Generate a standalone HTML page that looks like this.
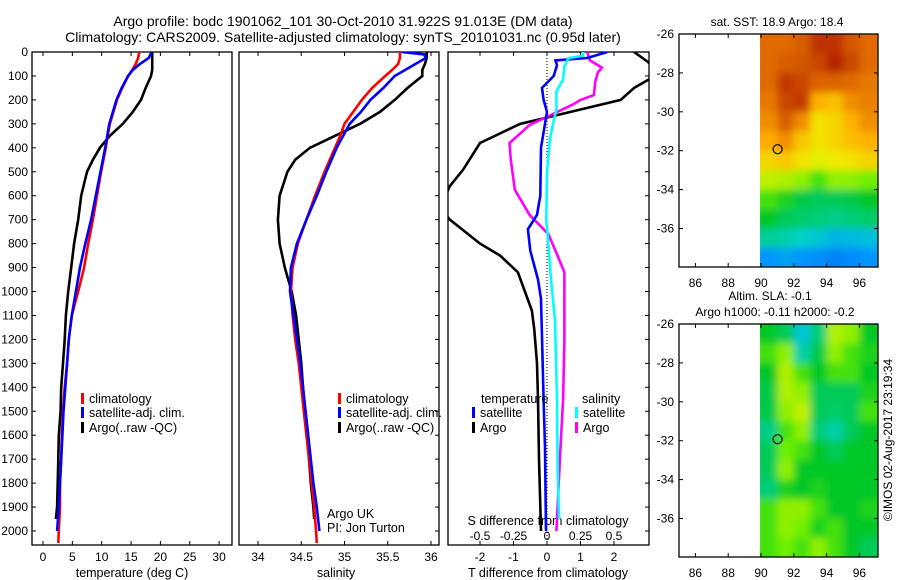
<!DOCTYPE html>
<html><head><meta charset="utf-8"><style>
body{margin:0;background:#fff;}
svg{display:block;font-family:"Liberation Sans",sans-serif;}
text{fill:#000;}
</style></head><body>
<svg id="c" width="900" height="580" viewBox="0 0 900 580">
<defs>
<clipPath id="cp1"><rect x="32" y="52" width="200" height="493"/></clipPath>
<clipPath id="cp2"><rect x="239" y="52" width="200" height="493"/></clipPath>
<clipPath id="cp3"><rect x="448" y="52" width="201" height="493"/></clipPath>
<clipPath id="cm1"><rect x="760" y="34" width="118" height="233"/></clipPath>
<clipPath id="cm2"><rect x="760" y="324" width="118" height="233"/></clipPath>
<filter id="bl" x="-5%" y="-5%" width="110%" height="110%"><feGaussianBlur stdDeviation="4"/></filter>
</defs>
<text x="343" y="26" text-anchor="middle" font-size="14">Argo profile: bodc 1901062_101 30-Oct-2010 31.922S 91.013E (DM data)</text>
<text x="343" y="42" text-anchor="middle" font-size="14">Climatology: CARS2009. Satellite-adjusted climatology: synTS_20101031.nc (0.95d later)</text>
<g id="g"></g>
</svg>
<script>
const depthC=[0,25,50,75,100,150,200,250,300,350,400,500,600,700,800,900,1000,1100,1200,1300,1400,1500,1600,1700,1800,1900,2000,2050];
const tClim=[16.4,16.2,15.8,15.2,14.5,13.5,12.6,12.0,11.4,11.0,10.7,9.9,9.2,8.5,7.7,7.0,6.0,4.9,4.4,4.1,3.7,3.4,3.2,3.1,2.9,2.9,2.7,2.6];
const sClim=[35.64,35.64,35.62,35.55,35.47,35.32,35.2,35.1,35.0,34.95,34.89,34.77,34.66,34.56,34.46,34.4,34.38,34.4,34.43,34.47,34.5,34.53,34.56,34.59,34.62,34.65,34.67,34.68];
const depthS=[0,10,25,50,75,100,150,200,250,300,400,500,600,700,800,900,1000,1100,1200,1300,1400,1500,1600,1700,1800,1900,2000];
const tSat=[18.5,18.3,18.0,16.5,15.3,14.5,13.4,12.5,11.9,11.3,10.6,9.8,9.0,8.2,7.2,6.3,5.6,4.9,4.4,4.1,3.8,3.5,3.3,3.1,2.9,2.7,2.4];
const sSat=[35.66,35.92,35.94,35.82,35.7,35.58,35.45,35.3,35.19,35.06,34.91,34.79,34.68,34.56,34.45,34.38,34.37,34.41,34.45,34.49,34.52,34.55,34.58,34.61,34.64,34.68,34.71];
const depthA=[0,25,50,75,100,150,200,250,300,350,400,450,500,600,700,800,900,1000,1100,1200,1300,1400,1500,1600,1700,1800,1900,1950];
const tArgo=[18.6,18.6,18.6,18.6,18.4,17.5,16.7,15.3,13.6,11.4,9.7,8.5,7.5,6.5,6.0,5.3,4.8,4.3,3.9,3.7,3.4,3.1,3.0,2.7,2.6,2.5,2.4,2.2];
const sArgo=[35.95,35.95,35.93,35.9,35.9,35.73,35.58,35.41,35.18,34.89,34.6,34.43,34.34,34.25,34.23,34.25,34.31,34.39,34.44,34.47,34.5,34.52,34.54,34.57,34.59,34.61,34.64,34.65];
const dTdepthA=[0,40,80,110,150,200,240,280,300,380,490,560,650,700,800,850,920,1000,1080,1160,1300,1450,1700,2000];
const dTArgo=[2.6,3.0,3.3,3.1,2.6,2.2,1.0,-0.2,-0.8,-2.0,-2.5,-2.9,-3.2,-2.9,-2.0,-1.4,-0.87,-0.66,-0.45,-0.38,-0.3,-0.27,-0.24,-0.18];
const dTdepthS=[0,25,35,55,100,150,200,250,400,600,680,740,830,950,1030,1450,1650,2000];
const dTSat=[1.8,1.2,0.25,0.3,0.2,-0.15,-0.1,0,-0.18,-0.2,-0.3,-0.57,-0.5,-0.27,-0.18,-0.1,-0.06,-0.03];
const dSdepthS=[0,15,25,60,115,165,240,300,370,500,700,800,950,1120,1450,1750,1950];
const dSSat=[0.27,0.27,0.16,0.13,0.12,0.07,0.07,0.045,0.02,0,-0.005,0.01,0.03,0.06,0.075,0.08,0.09];
const dSdepthA=[0,35,65,85,125,180,200,220,265,305,380,450,575,680,760,825,920,1000,1200,1450,1660,2000];
const dSArgo=[0.3,0.32,0.41,0.38,0.36,0.35,0.25,0.19,0.02,-0.13,-0.28,-0.27,-0.24,-0.13,0.01,0.06,0.13,0.13,0.13,0.12,0.1,0.07];
const depthTicks=[0,100,200,300,400,500,600,700,800,900,1000,1100,1200,1300,1400,1500,1600,1700,1800,1900,2000];
const tTicks=[0,5,10,15,20,25,30];
const sTicks=[34,34.5,35,35.5,36];
const dTTicks=[-2,-1,0,1,2];
const dSTicks=[-0.5,-0.25,0,0.25,0.5];
const dSTickLabels=["-0.5","-0.25","0","0.25","0.5"];
const lonTicks=[86,88,90,92,94,96];
const latTicks=[-26,-28,-30,-32,-34,-36];
const sstGrid=[
[0.85,0.85,0.87,0.93,0.93,0.88,0.85],
[0.85,0.87,0.88,0.9,0.95,0.9,0.85],
[0.85,0.92,0.9,0.86,0.86,0.85,0.83],
[0.83,0.9,0.92,0.75,0.73,0.8,0.82],
[0.8,0.87,0.8,0.68,0.7,0.75,0.8],
[0.76,0.8,0.72,0.68,0.7,0.73,0.75],
[0.7,0.72,0.68,0.65,0.67,0.68,0.7],
[0.63,0.62,0.6,0.55,0.6,0.6,0.58],
[0.55,0.52,0.48,0.47,0.47,0.48,0.5],
[0.5,0.47,0.46,0.45,0.44,0.45,0.46],
[0.43,0.42,0.4,0.38,0.35,0.36,0.37],
[0.3,0.32,0.3,0.28,0.25,0.27,0.3]];
const slaGrid=[
[0.5,0.47,0.38,0.45,0.62,0.6,0.5],
[0.55,0.6,0.42,0.48,0.6,0.55,0.52],
[0.5,0.62,0.55,0.5,0.55,0.55,0.5],
[0.48,0.62,0.6,0.47,0.47,0.47,0.52],
[0.48,0.6,0.63,0.47,0.46,0.47,0.55],
[0.44,0.55,0.6,0.45,0.42,0.47,0.5],
[0.47,0.58,0.55,0.5,0.47,0.5,0.5],
[0.47,0.6,0.5,0.5,0.5,0.5,0.5],
[0.45,0.52,0.5,0.52,0.5,0.5,0.5],
[0.55,0.6,0.6,0.55,0.5,0.5,0.52],
[0.55,0.6,0.58,0.52,0.55,0.5,0.5],
[0.55,0.58,0.55,0.6,0.55,0.5,0.47]];
const argoLon=91.013, argoLat=-31.922;

const NS='http://www.w3.org/2000/svg';
const G=document.getElementById('g');
function el(t,a,p){const e=document.createElementNS(NS,t);for(const k in a)e.setAttribute(k,a[k]);(p||G).appendChild(e);return e;}
function txt(x,y,s,anchor,size,name){const e=el('text',{x:x,y:y,'text-anchor':anchor||'start','font-size':size||12});e.textContent=s;


return e;}
const yD=d=>52+d*0.2395;
const xT=v=>43+v*5.87;
const xS=v=>258+(v-34)*86.5;
const xDT=v=>547+v*33.5;
const xDS=v=>547+v*134;
function line(xs,ds,fx,col,clip,name){const pts=xs.map((v,i)=>fx(v).toFixed(1)+','+yD(ds[i]).toFixed(1)).join(' ');
const e=el('polyline',{points:pts,fill:'none',stroke:col,'stroke-width':2.6,'clip-path':'url(#'+clip+')'});

}
function frame(x,y,w,h,name){const e=el('rect',{x:x,y:y,width:w,height:h,fill:'none',stroke:'#000','stroke-width':1.3});

}
function legend(x,y,col,label,name){const r=el('rect',{x:x,y:y-10,width:3,height:11,fill:col});


txt(x+8,y,label,'start',12.5,name);}

// panel 1
frame(32,52,200,493,'temperature-panel');
depthTicks.forEach(d=>{el('line',{x1:32,x2:36,y1:yD(d),y2:yD(d),stroke:'#000'});txt(28,yD(d)+4,String(d),'end',12,'depth-tick-label');});
tTicks.forEach(v=>{el('line',{x1:xT(v),x2:xT(v),y1:545,y2:541,stroke:'#000'});el('line',{x1:xT(v),x2:xT(v),y1:52,y2:56,stroke:'#000'});txt(xT(v),561,String(v),'middle',12,'temperature-tick-label');});
txt(132,577,'temperature (deg C)','middle',12.5,'temperature-axis-title');
line(tArgo,depthA,xT,'#000','cp1','temperature-argo-line');
line(tClim,depthC,xT,'#f00','cp1','temperature-climatology-line');
line(tSat,depthS,xT,'#00f','cp1','temperature-satellite-line');
legend(81,403,'#f00','climatology','legend-climatology');
legend(81,417,'#00f','satellite-adj. clim.','legend-satellite-adj');
legend(81,432,'#000','Argo(..raw -QC)','legend-argo');

// panel 2
frame(239,52,200,493,'salinity-panel');
depthTicks.forEach(d=>{el('line',{x1:439,x2:435,y1:yD(d),y2:yD(d),stroke:'#000'});});
sTicks.forEach(v=>{el('line',{x1:xS(v),x2:xS(v),y1:545,y2:541,stroke:'#000'});el('line',{x1:xS(v),x2:xS(v),y1:52,y2:56,stroke:'#000'});txt(xS(v),561,String(v),'middle',12,'salinity-tick-label');});
txt(336,577,'salinity','middle',12.5,'salinity-axis-title');
line(sArgo,depthA,xS,'#000','cp2','salinity-argo-line');
line(sClim,depthC,xS,'#f00','cp2','salinity-climatology-line');
line(sSat,depthS,xS,'#00f','cp2','salinity-satellite-line');
legend(338,403,'#f00','climatology','legend-climatology-2');
legend(338,417,'#00f','satellite-adj. clim.','legend-satellite-adj-2');
legend(338,432,'#000','Argo(..raw -QC)','legend-argo-2');
txt(327,518,'Argo UK','start',12.5,'institution-label');
txt(327,532,'PI: Jon Turton','start',12.5,'pi-label');

// panel 3
frame(448,52,201,493,'difference-panel');
el('line',{x1:547,x2:547,y1:52,y2:545,stroke:'#000','stroke-dasharray':'1,2'});
depthTicks.forEach(d=>{el('line',{x1:649,x2:645,y1:yD(d),y2:yD(d),stroke:'#000'});});
dTTicks.forEach(v=>{el('line',{x1:xDT(v),x2:xDT(v),y1:545,y2:541,stroke:'#000'});txt(xDT(v),561,String(v),'middle',12,'t-diff-tick-label');});
dSTicks.forEach((v,i)=>{el('line',{x1:xDS(v),x2:xDS(v),y1:52,y2:56,stroke:'#000'});txt(xDS(v),540,dSTickLabels[i],'middle',12,'s-diff-tick-label');});
txt(548,525,'S difference from climatology','middle',12.5,'s-diff-axis-title');
txt(548,577,'T difference from climatology','middle',12.5,'t-diff-axis-title');
line(dTArgo,dTdepthA,xDT,'#000','cp3','t-diff-argo-line');
line(dSArgo,dSdepthA,xDS,'#f0f','cp3','s-diff-argo-line');
line(dTSat,dTdepthS,xDT,'#00f','cp3','t-diff-satellite-line');
line(dSSat,dSdepthS,xDS,'#0ff','cp3','s-diff-satellite-line');
txt(481,403,'temperature','start',12.5,'legend-temperature-heading');
legend(472,417,'#00f','satellite','legend-t-satellite');
legend(472,432,'#000','Argo','legend-t-argo');
txt(582,403,'salinity','start',12.5,'legend-salinity-heading');
legend(575,417,'#0ff','satellite','legend-s-satellite');
legend(575,432,'#f0f','Argo','legend-s-argo');

// colormap
function jet(v){const stops=[[0,[0,40,200]],[0.3,[0,150,255]],[0.4,[0,210,200]],[0.5,[0,200,40]],[0.58,[110,240,0]],[0.66,[240,240,0]],[0.76,[255,170,0]],[0.86,[220,100,0]],[1,[160,0,0]]];
for(let i=1;i<stops.length;i++){if(v<=stops[i][0]){const a=stops[i-1],b=stops[i],t=(v-a[0])/(b[0]-a[0]);return 'rgb('+a[1].map((c,k)=>Math.round(c+(b[1][k]-c)*t)).join(',')+')';}}return 'rgb(160,0,0)';}
function map(top,grid,clip,name){
const xL=lon=>679+(lon-85)*16.4, yL=lat=>top+(-26-lat)*19.45;
const g=el('g',{'clip-path':'url(#'+clip+')'});


const gi=el('g',{filter:'url(#bl)'},g);
grid.forEach((row,r)=>row.forEach((v,c)=>{el('rect',{x:xL(90+c)-(c==0?8:0),y:yL(-26-r)-(r==0?8:0),width:16.4+(c==0||c==6?8:0)+0.5,height:19.45+(r==0||r==11?8:0)+0.5,fill:jet(v)},gi);}));
frame(679,top,199,233,name);
lonTicks.forEach(v=>{el('line',{x1:xL(v),x2:xL(v),y1:top+233,y2:top+229,stroke:'#000'});el('line',{x1:xL(v),x2:xL(v),y1:top,y2:top+4,stroke:'#000'});txt(xL(v),top+253,String(v),'middle',12,name+'-lon-tick');});
latTicks.forEach(v=>{el('line',{x1:679,x2:683,y1:yL(v),y2:yL(v),stroke:'#000'});el('line',{x1:878,x2:874,y1:yL(v),y2:yL(v),stroke:'#000'});txt(674,yL(v)+4,String(v),'end',12,name+'-lat-tick');});
const m=el('circle',{cx:xL(argoLon),cy:yL(argoLat),r:4.5,fill:'none',stroke:'#000','stroke-width':1.2});


}
map(34,sstGrid,'cm1','sst-map');
map(324,slaGrid,'cm2','sla-map');
txt(777,26,'sat. SST: 18.9 Argo: 18.4','middle',12,'sst-map-title');
txt(770,300,'Altim. SLA: -0.1','middle',12,'sla-map-title-1');
txt(775,316,'Argo h1000: -0.11 h2000: -0.2','middle',12,'sla-map-title-2');
const cr=txt(0,0,'©IMOS 02-Aug-2017 23:19:34','middle',12,'copyright-timestamp');
cr.setAttribute('transform','translate(892,440) rotate(-90)');
</script>
</body></html>
